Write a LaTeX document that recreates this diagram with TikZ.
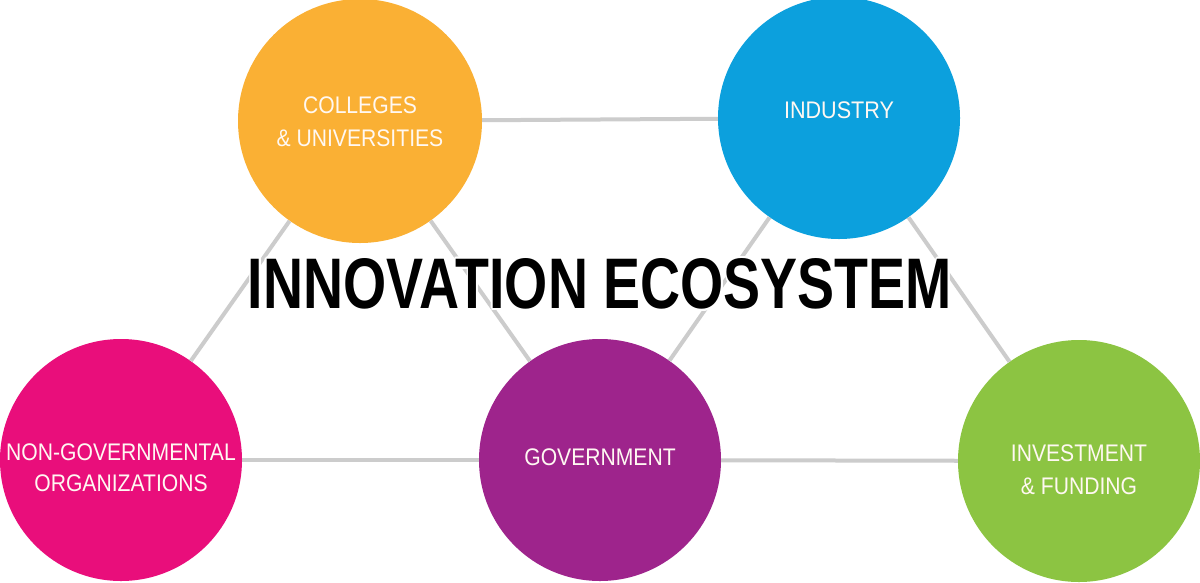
\documentclass[tikz,border=0pt]{standalone}
\usepackage{fontspec}
\setmainfont[FakeStretch=0.88]{Liberation Sans}
\newfontfamily\titlefont{Liberation Sans}
\usepackage{graphicx}
\usepackage{contour}
\contourlength{2pt}
\definecolor{cOrange}{HTML}{FAB034}
\definecolor{cBlue}{HTML}{0CA0DD}
\definecolor{cMagenta}{HTML}{E90E7B}
\definecolor{cPurple}{HTML}{9E248C}
\definecolor{cGreen}{HTML}{8CC442}
\definecolor{cLink}{HTML}{CCCCCC}
\definecolor{cLabel}{HTML}{FFF8F2}
\begin{document}
\begin{tikzpicture}[x=1pt,y=-1pt,
  hub/.style={circle,inner sep=0pt,minimum size=242pt,draw=none},
  link/.style={draw=cLink,line width=4pt},
  hublabel/.style={text=cLabel,align=center,inner sep=0pt,font=\fontsize{24}{32}\selectfont},
  titletext/.style={inner sep=0pt,text=black}]
\fill[white] (0,0) rectangle (1200,582);
\useasboundingbox (0,0) rectangle (1200,582);
% circles
\node[hub,fill=cOrange,minimum size=244pt] (col) at (360,121) {};
\node[hub,fill=cBlue] (ind) at (839,118) {};
\node[hub,fill=cMagenta] (ngo) at (121,460) {};
\node[hub,fill=cPurple] (gov) at (600,460) {};
\node[hub,fill=cGreen] (inv) at (1079,461) {};
% connectors
\draw[link] (col) -- (ind);
\draw[link] (col) -- (ngo);
\draw[link] (col) -- (gov);
\draw[link] (ind) -- (gov);
\draw[link] (ind) -- (inv);
\draw[link] (ngo) -- (gov);
\draw[link] (gov) -- (inv);
% labels
\node[hublabel,font=\fontsize{24}{33}\selectfont] (colt) at (360,121.5) {COLLEGES\\\& UNIVERSITIES};
\node[hublabel,font=\fontsize{24}{32}\addfontfeatures{FakeStretch=0.9}\selectfont] (indt) at (839,110) {INDUSTRY};
\node[hublabel,font=\fontsize{24}{31}\selectfont] (ngot) at (121,468) {NON-GOVERNMENTAL\\ORGANIZATIONS};
\node[hublabel] (govt) at (600,457) {GOVERNMENT};
\node[hublabel,font=\fontsize{24}{33}\selectfont] (invt) at (1079,469.5) {INVESTMENT\\\& FUNDING};
% title
\node[titletext] (title) at (600,285) {\resizebox{704pt}{50pt}{\titlefont\fontsize{70}{70}\selectfont\bfseries\contour{white}{INNOVATION ECOSYSTEM}}};
\end{tikzpicture}
\end{document}
